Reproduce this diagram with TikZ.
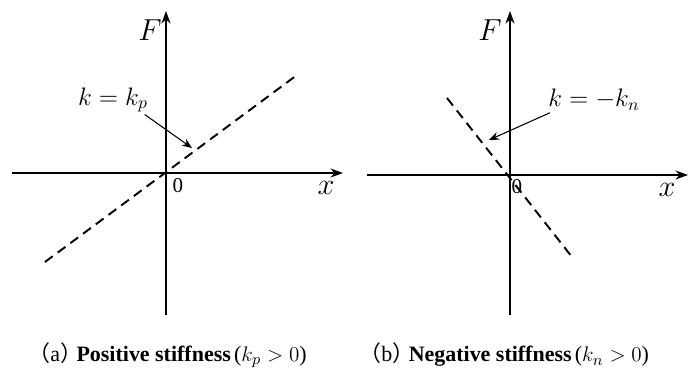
\documentclass[tikz,border=0pt]{standalone}
\usepackage{fontspec}
\setmainfont{Liberation Serif}
\newfontfamily\cjk{Noto Sans CJK SC}
\usetikzlibrary{arrows.meta, positioning, calc}
\tikzset{
    axis/.style={-{Stealth[length=2.5mm, width=1.8mm]}, line width=1.1pt},
    load/.style={line width=1.1pt, dash pattern=on 5.5pt off 3.5pt},
    pointer/.style={-{Stealth[length=2mm, width=1.6mm]}, line width=0.6pt},
    axlbl/.style={font=\LARGE, inner sep=1pt},
    kval/.style={font=\Large, inner sep=1pt},
    origin/.style={font=\large, inner sep=1pt},
    caption/.style={font=\fontsize{12.5}{15}\selectfont, anchor=west, inner sep=0pt},
}
\newcommand{\subfig}[1]{{\cjk （}#1{\cjk ）}\hspace{-0.25em}}

\begin{document}
\begin{tikzpicture}[x=0.02cm, y=-0.02cm]

    \useasboundingbox (0,0) rectangle (689,374);

    % (a) positive stiffness
    \coordinate (oa) at (166,173);
    \coordinate (xaL) at (12,173);
    \coordinate (xaR) at (343,173);
    \coordinate (faB) at (166,315);
    \coordinate (faT) at (166,11);
    \draw[axis] (xaL) -- (xaR);
    \draw[axis] (faB) -- (faT);
    \node[axlbl] (Fa) at (150,30) {$F$};
    \node[axlbl] (xa) at (326,188) {$x$};
    \node[origin] (za) at (178,186) {0};

    \coordinate (la0) at (45,262);
    \coordinate (la1) at (297,75);
    \draw[load] (la0) -- (la1);

    \node[kval] (ka) at (113,100) {$k=k_p$};
    \coordinate (ha) at (192,148);
    \draw[pointer] ([xshift=-3pt]ka.south east) -- (ha);

    % (b) negative stiffness
    \coordinate (ob) at (510,175);
    \coordinate (xbL) at (367,175);
    \coordinate (xbR) at (688,175);
    \coordinate (fbB) at (510,315);
    \coordinate (fbT) at (510,11);
    \draw[axis] (xbL) -- (xbR);
    \draw[axis] (fbB) -- (fbT);
    \node[axlbl] (Fb) at (490,30) {$F$};
    \node[axlbl] (xb) at (667,190) {$x$};
    \node[origin] (zb) at (517,187) {0};

    \coordinate (lb0) at (447,98);
    \coordinate (lb1) at (572,257);
    \draw[load] (lb0) -- (lb1);

    \node[kval] (kb) at (594,100) {$k=-k_n$};
    \coordinate (hb) at (489,140);
    \draw[pointer] ([xshift=2pt]kb.south west) -- (hb);

    % captions
    \node[caption] (capa) at (28,355) {\subfig{a}\textbf{Positive stiffness}\hspace{-0.1em} ($k_p>0$)};
    \node[caption] (capb) at (359,355) {\subfig{b}\textbf{Negative stiffness}\hspace{-0.1em} ($k_n>0$)};

\end{tikzpicture}
\end{document}
